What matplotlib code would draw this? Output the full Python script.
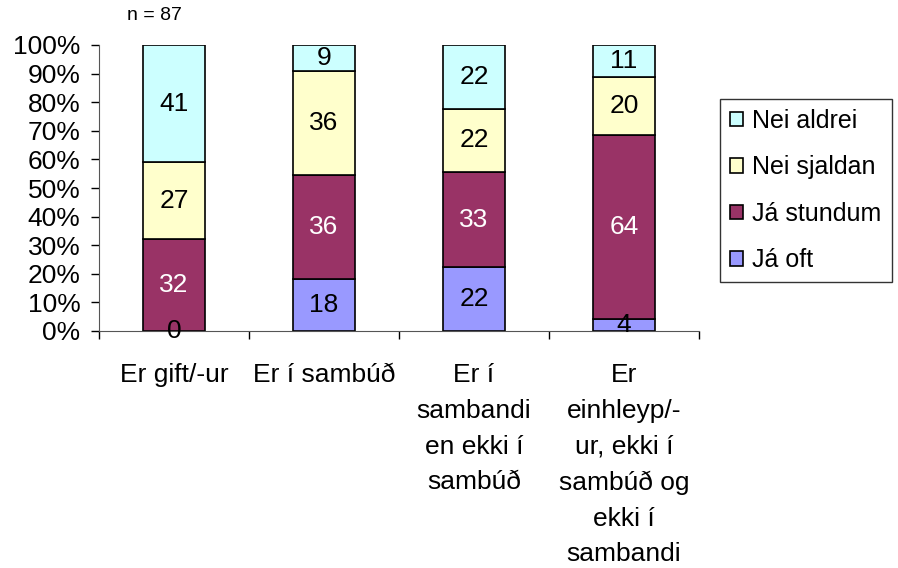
import numpy as np
import matplotlib.pyplot as plt

plt.rcParams['font.family'] = ['Liberation Sans', 'DejaVu Sans']

# Survey answers per relationship status (counts in %, each column scaled to 100%)
categories = ["Er gift/-ur", "Er í sambúð", "Er í\nsambandi\nen ekki í\nsambúð",
              "Er\neinhleyp/-\nur, ekki í\nsambúð og\nekki í\nsambandi"]
series = ["Já oft", "Já stundum", "Nei sjaldan", "Nei aldrei"]
ja_oft = [0, 18, 22, 4]
ja_stundum = [32, 36, 33, 64]
nei_sjaldan = [27, 36, 22, 20]
nei_aldrei = [41, 9, 22, 11]
colors = ["#9999FF", "#993366", "#FFFFCC", "#CCFFFF"]
text_colors = ["black", "white", "black", "black"]

values = np.array([ja_oft, ja_stundum, nei_sjaldan, nei_aldrei], dtype=float)
shares = values / values.sum(axis=0) * 100

fig = plt.figure(figsize=(8.98, 5.68), dpi=100)
ax = fig.add_axes([99 / 898, 1 - 331 / 568, 600 / 898, 286 / 568])

x = np.arange(len(categories))
bottom = np.zeros(len(categories))
handles = []
for i, name in enumerate(series):
    h = ax.bar(x, shares[i], 0.41, bottom=bottom, color=colors[i],
               edgecolor="black", linewidth=1.2, label=name, zorder=2)
    handles.append(h)
    for j in range(len(categories)):
        ax.text(x[j], bottom[j] + shares[i][j] / 2, "%d" % values[i][j],
                ha="center", va="center", fontsize=19, color=text_colors[i], zorder=3)
    bottom += shares[i]

ax.set_xlim(-0.5, 3.5)
ax.set_ylim(0, 100)
ax.set_yticks(np.arange(0, 101, 10))
ax.set_yticklabels(["%d%%" % v for v in range(0, 101, 10)], fontsize=19)
ax.tick_params(axis="y", direction="out", length=5.5, width=1, pad=8)

ax.set_xticks(x)
ax.set_xticklabels(categories, fontsize=19, linespacing=1.62, va="top")
ax.tick_params(axis="x", which="major", length=0, pad=23)
ax.set_xticks(np.arange(-0.5, 4, 1), minor=True)
ax.tick_params(axis="x", which="minor", direction="out", length=6, width=1)

for side in ["top", "right"]:
    ax.spines[side].set_visible(False)
ax.spines["left"].set_color("#555555")
ax.spines["bottom"].set_color("#555555")

fig.text(154 / 898, 1 - 15 / 568, "n = 87", ha="center", va="center", fontsize=14)

leg = fig.legend(handles[::-1], series[::-1], loc="upper left",
                 bbox_to_anchor=(720 / 898, 1 - 99 / 568), borderaxespad=0,
                 prop={"size": 18}, frameon=True, fancybox=False, edgecolor="black",
                 handlelength=0.5, handleheight=0.5, handletextpad=0.4,
                 labelspacing=0.9, borderpad=0.4)
leg.get_frame().set_linewidth(1)

fig.savefig("out.png", dpi=100)
